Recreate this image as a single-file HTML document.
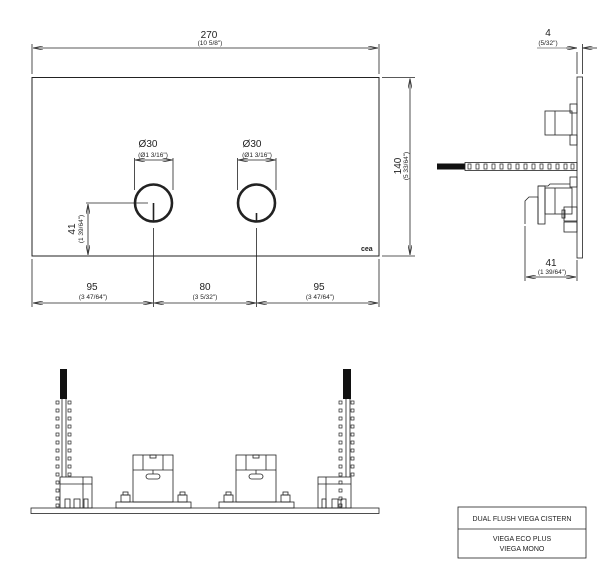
<!DOCTYPE html>
<html><head><style>
html,body{margin:0;padding:0;background:#fff;}
svg{display:block;}
text{font-family:"Liberation Sans",Arial,sans-serif;fill:#222;}
</style></head><body>
<svg width="607" height="588" viewBox="0 0 607 588" xmlns="http://www.w3.org/2000/svg">
<defs>
<marker id="a" viewBox="0 0 10 4" refX="10" refY="2" markerWidth="10" markerHeight="4" orient="auto-start-reverse" markerUnits="userSpaceOnUse"><path d="M0,0 L10,2 L0,4" fill="none" stroke="#333" stroke-width="0.8"/></marker>
</defs>
<g stroke="#222" fill="none" stroke-width="0.8">
<rect x="32" y="77.5" width="347" height="178.5" stroke-width="1"/>
<circle cx="153.5" cy="203" r="18.5" stroke-width="2.6"/>
<circle cx="256.5" cy="203" r="18.5" stroke-width="2.6"/>
<line x1="153.5" y1="203" x2="153.5" y2="222" stroke-width="1.6"/>
<line x1="256.5" y1="213" x2="256.5" y2="222" stroke-width="1.6"/>
<line x1="32" y1="44" x2="32" y2="74"/><line x1="379" y1="44" x2="379" y2="74"/>
<line x1="33" y1="48" x2="378" y2="48" marker-start="url(#a)" marker-end="url(#a)"/>
<line x1="382" y1="77.5" x2="415" y2="77.5"/><line x1="382" y1="256" x2="415" y2="256"/>
<line x1="410" y1="78.5" x2="410" y2="255" marker-start="url(#a)" marker-end="url(#a)"/>
<line x1="134.5" y1="158" x2="134.5" y2="190"/><line x1="173" y1="158" x2="173" y2="190"/>
<line x1="135" y1="160" x2="172.5" y2="160" marker-start="url(#a)" marker-end="url(#a)"/>
<line x1="237.5" y1="158" x2="237.5" y2="190"/><line x1="276" y1="158" x2="276" y2="190"/>
<line x1="238" y1="160" x2="275.5" y2="160" marker-start="url(#a)" marker-end="url(#a)"/>
<line x1="86" y1="203" x2="148" y2="203"/>
<line x1="88" y1="204" x2="88" y2="255" marker-start="url(#a)" marker-end="url(#a)"/>
<line x1="32" y1="259" x2="32" y2="307"/><line x1="379" y1="259" x2="379" y2="307"/>
<line x1="153.5" y1="228" x2="153.5" y2="307"/><line x1="256.5" y1="228" x2="256.5" y2="307"/>
<line x1="33" y1="303" x2="153" y2="303" marker-start="url(#a)" marker-end="url(#a)"/>
<line x1="154" y1="303" x2="256" y2="303" marker-start="url(#a)" marker-end="url(#a)"/>
<line x1="257" y1="303" x2="378" y2="303" marker-start="url(#a)" marker-end="url(#a)"/>

<!-- side view -->
<rect x="577" y="77" width="5.5" height="181"/>
<line x1="577" y1="52" x2="577" y2="74"/><line x1="582.5" y1="44" x2="582.5" y2="74"/>
<line x1="566" y1="48" x2="577" y2="48" marker-end="url(#a)"/>
<line x1="597" y1="48" x2="582.5" y2="48" marker-end="url(#a)"/>
<line x1="537" y1="48" x2="566" y2="48" stroke-width="0.5"/>
<rect x="437" y="163.5" width="28" height="6" fill="#111" stroke="none"/>
<rect x="465" y="162.5" width="112" height="8"/>
<g stroke-width="0.7">
<rect x="468" y="164" width="3" height="5"/><rect x="476" y="164" width="3" height="5"/><rect x="484" y="164" width="3" height="5"/><rect x="492" y="164" width="3" height="5"/><rect x="500" y="164" width="3" height="5"/><rect x="508" y="164" width="3" height="5"/><rect x="516" y="164" width="3" height="5"/><rect x="524" y="164" width="3" height="5"/><rect x="532" y="164" width="3" height="5"/><rect x="540" y="164" width="3" height="5"/><rect x="548" y="164" width="3" height="5"/><rect x="556" y="164" width="3" height="5"/><rect x="564" y="164" width="3" height="5"/><rect x="571" y="164" width="3" height="5"/>
</g>
<rect x="545" y="111" width="27" height="24"/><line x1="555" y1="111" x2="555" y2="135"/>
<rect x="570" y="104" width="7" height="9"/><rect x="570" y="135" width="7" height="10"/>
<rect x="570" y="177" width="7" height="10"/>
<path d="M538 186 L548 186 L550 184 L570 184"/>
<rect x="545" y="188" width="27" height="26"/><line x1="555" y1="188" x2="555" y2="214"/>
<path d="M525 224 L525 201 L529 197 L538 197 L538 224"/>
<rect x="538" y="186" width="7" height="38"/>
<rect x="564" y="207" width="13" height="14"/><rect x="562" y="210" width="3" height="8"/>
<rect x="564" y="222" width="13" height="10"/>
<line x1="525" y1="226" x2="525" y2="281"/><line x1="577" y1="260" x2="577" y2="281"/>
<line x1="526" y1="277" x2="576" y2="277" marker-start="url(#a)" marker-end="url(#a)"/>

<!-- bottom view -->
<rect x="31" y="508" width="348" height="5.5"/>
<rect x="60" y="369" width="7" height="30" fill="#111" stroke="none"/>
<rect x="343" y="369" width="8" height="30" fill="#111" stroke="none"/>
<line x1="62" y1="399" x2="62" y2="477"/><line x1="66" y1="399" x2="66" y2="477"/>
<line x1="346" y1="399" x2="346" y2="477"/><line x1="350" y1="399" x2="350" y2="477"/>
<g stroke-width="0.7" id="lad">
<rect x="56" y="401" width="3" height="3"/><rect x="56" y="409" width="3" height="3"/><rect x="56" y="417" width="3" height="3"/><rect x="56" y="425" width="3" height="3"/><rect x="56" y="433" width="3" height="3"/><rect x="56" y="441" width="3" height="3"/><rect x="56" y="449" width="3" height="3"/><rect x="56" y="457" width="3" height="3"/><rect x="56" y="465" width="3" height="3"/><rect x="56" y="473" width="3" height="3"/><rect x="56" y="481" width="3" height="3"/><rect x="56" y="489" width="3" height="3"/><rect x="56" y="497" width="3" height="3"/><rect x="56" y="504" width="3" height="3"/>
<rect x="68" y="401" width="3" height="3"/><rect x="68" y="409" width="3" height="3"/><rect x="68" y="417" width="3" height="3"/><rect x="68" y="425" width="3" height="3"/><rect x="68" y="433" width="3" height="3"/><rect x="68" y="441" width="3" height="3"/><rect x="68" y="449" width="3" height="3"/><rect x="68" y="457" width="3" height="3"/><rect x="68" y="465" width="3" height="3"/><rect x="68" y="473" width="3" height="3"/>
</g>
<use href="#lad" x="283"/>
<rect x="60" y="477" width="32" height="31"/><line x1="60" y1="484" x2="92" y2="484"/><line x1="83" y1="477" x2="83" y2="508"/>
<rect x="65" y="499" width="5" height="9"/><rect x="74" y="499" width="6" height="9"/><rect x="84" y="499" width="4" height="9"/>
<rect x="318" y="477" width="33" height="31"/><line x1="318" y1="484" x2="351" y2="484"/><line x1="326" y1="477" x2="326" y2="508"/>
<rect x="322" y="499" width="4" height="9"/><rect x="332" y="499" width="6" height="9"/><rect x="341" y="499" width="5" height="9"/>
<g id="valve">
<rect x="133" y="455" width="40" height="47"/>
<line x1="133" y1="470" x2="173" y2="470"/>
<line x1="143" y1="455" x2="143" y2="470"/><line x1="163" y1="455" x2="163" y2="470"/>
<rect x="150" y="455" width="6" height="3"/>
<line x1="153" y1="470" x2="153" y2="474"/>
<rect x="146" y="474" width="14" height="5" rx="2.5"/>
<rect x="116" y="502" width="75" height="6"/>
<rect x="121" y="495" width="9" height="7"/><rect x="123" y="492" width="5" height="3"/>
<rect x="178" y="495" width="9" height="7"/><rect x="180" y="492" width="5" height="3"/>
</g>
<use href="#valve" x="103"/>

<rect x="458" y="507" width="128" height="51"/>
<line x1="458" y1="529" x2="586" y2="529"/>
</g>
<g font-size="10" text-anchor="middle">
<text x="209" y="38">270</text>
<text transform="translate(401 166) rotate(-90)" x="0" y="0">140</text>
<text x="148" y="147">Ø30</text><text x="252" y="147">Ø30</text>
<text x="92" y="290">95</text><text x="205" y="290">80</text><text x="319" y="290">95</text>
<text x="548" y="36">4</text>
<text x="551" y="266">41</text>
<text transform="translate(75 229) rotate(-90)" x="0" y="0">41</text>
</g>
<g font-size="6.5" text-anchor="middle">
<text x="210" y="45">(10 5/8")</text>
<text transform="translate(408 166) rotate(-90)" x="0" y="0">(5 33/64")</text>
<text x="153" y="157">(Ø1 3/16")</text><text x="257" y="157">(Ø1 3/16")</text>
<text x="93" y="299">(3 47/64")</text><text x="205" y="299">(3 5/32")</text><text x="320" y="299">(3 47/64")</text>
<text x="548" y="45">(5/32")</text>
<text x="552" y="274">(1 39/64")</text>
<text transform="translate(83 229) rotate(-90)" x="0" y="0">(1 39/64")</text>
<text x="522" y="521" font-size="7">DUAL FLUSH VIEGA CISTERN</text>
<text x="522" y="541" font-size="7">VIEGA ECO PLUS</text>
<text x="522" y="551" font-size="7">VIEGA MONO</text>
</g>
<text x="361" y="251" font-size="7" font-weight="bold">cea</text>
</svg>
</body></html>
